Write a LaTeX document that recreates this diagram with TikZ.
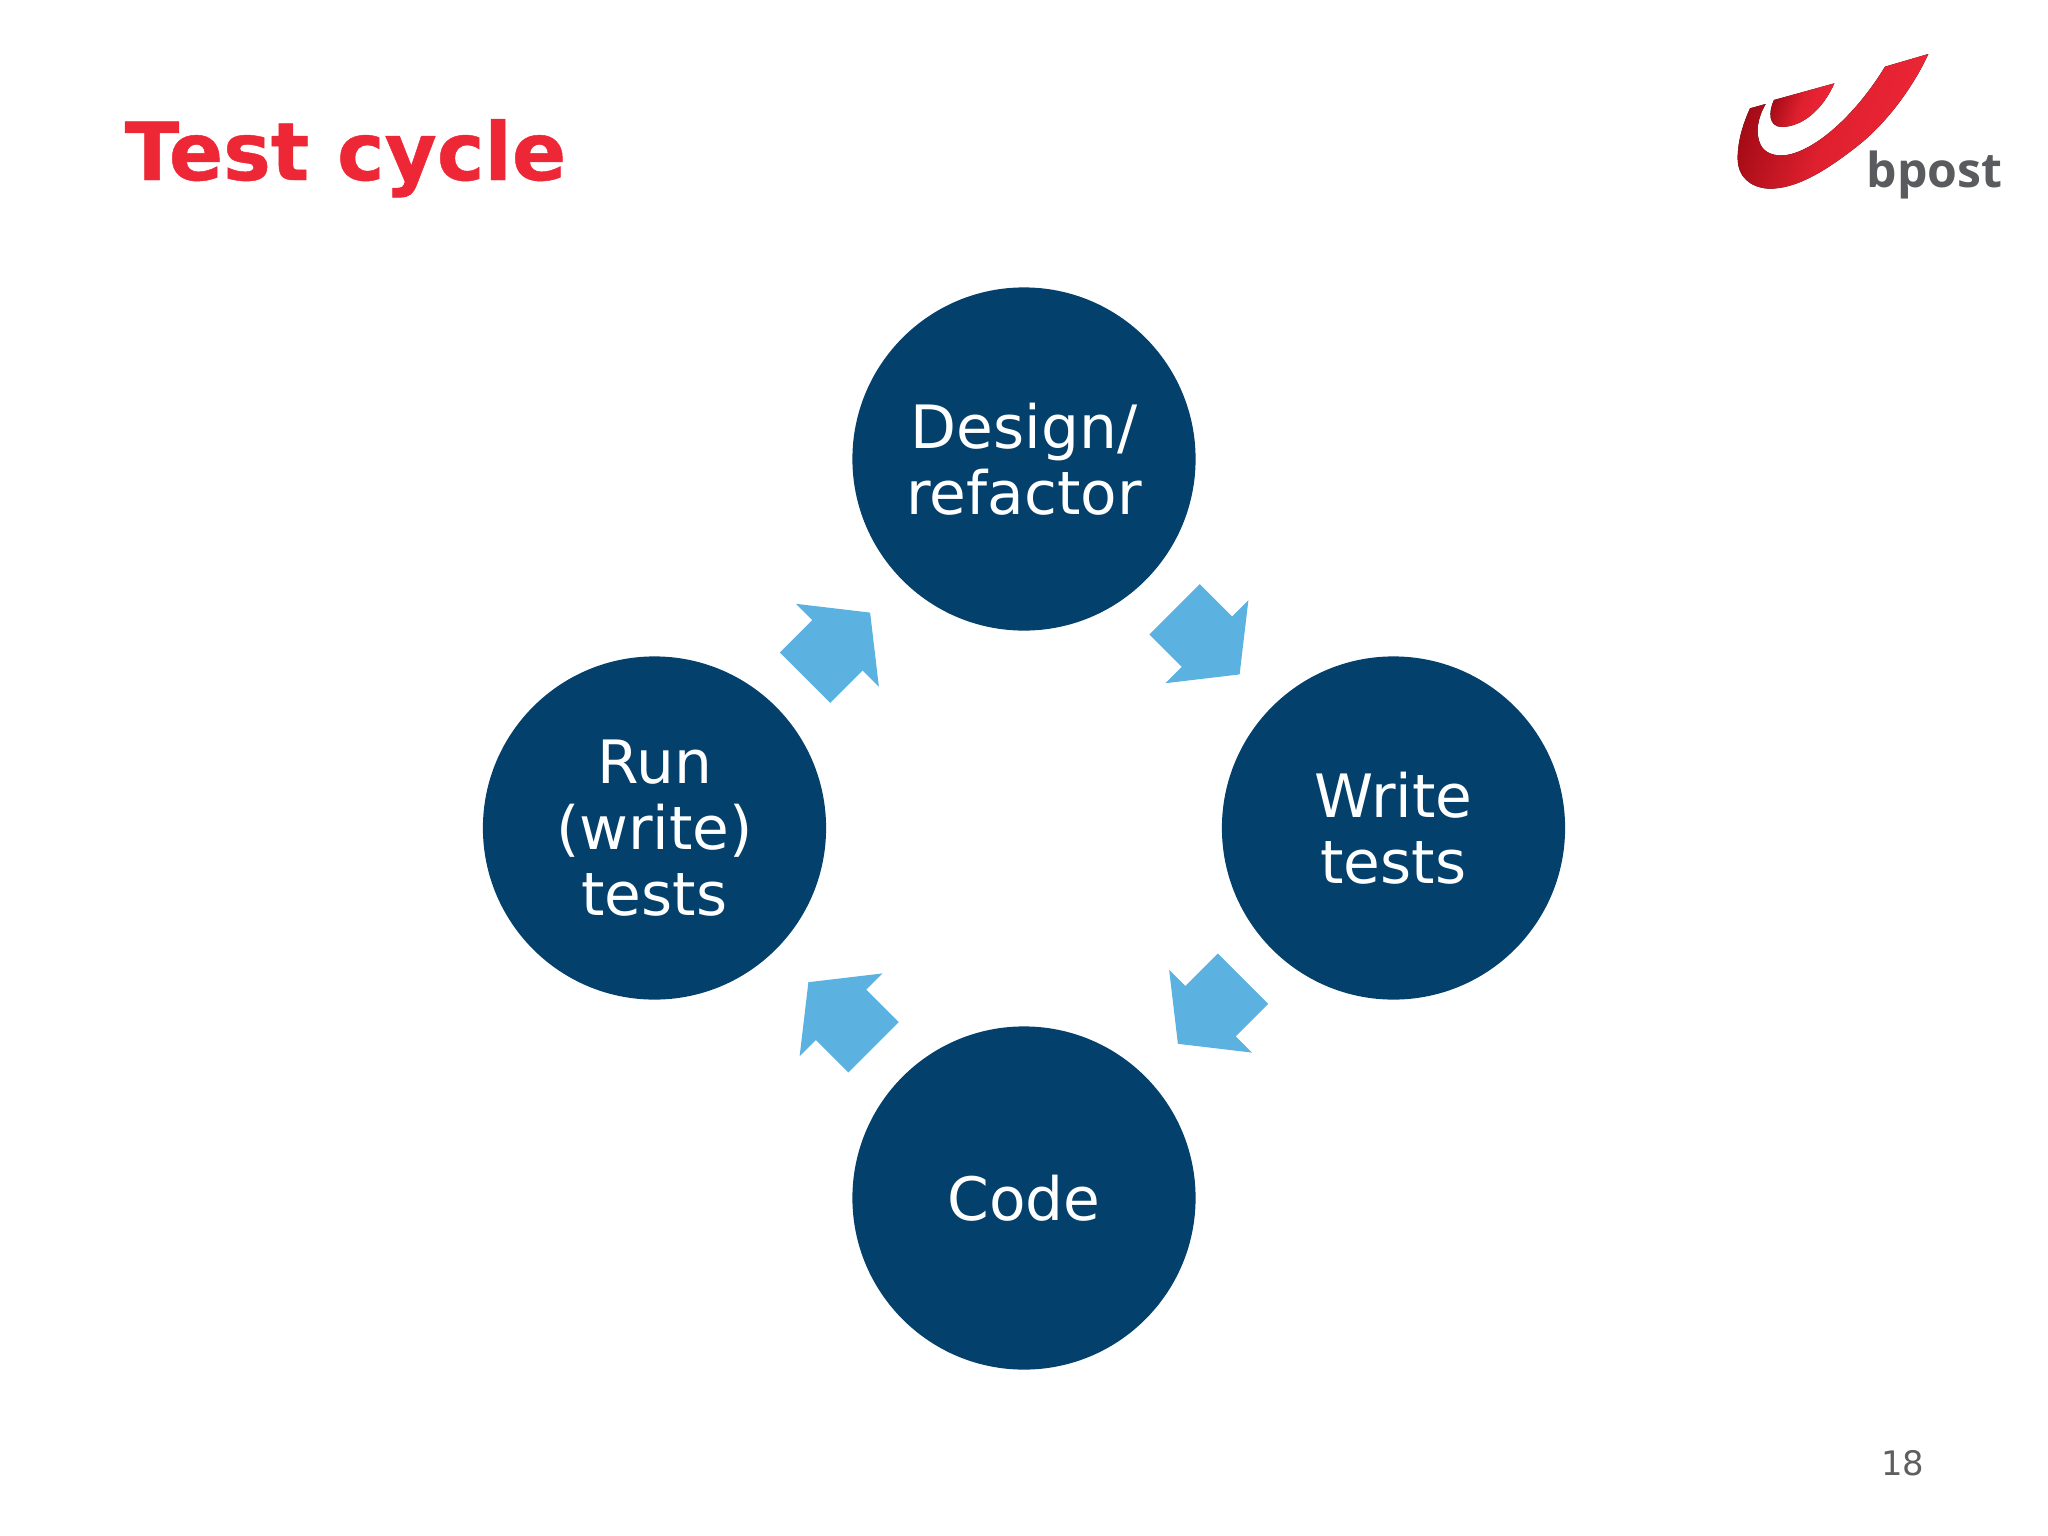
\documentclass[tikz,border=0pt]{standalone}
\usepackage{fontspec}
\setmainfont{DejaVu Sans}
\newfontfamily\logofont{Open Sans}
\newfontfamily\titlefont[FakeBold=0.6]{DejaVu Sans Bold}
\usetikzlibrary{positioning, calc, shapes.arrows}
\definecolor{circleBlue}{HTML}{03406B}
\definecolor{arrowBlue}{HTML}{5BB2E0}
\definecolor{titleRed}{HTML}{EE2737}
\definecolor{logoDark}{HTML}{A00A14}
\definecolor{logoMid}{HTML}{E0202F}
\definecolor{logoGrey}{HTML}{5A5B5E}
\definecolor{pageGrey}{HTML}{5F5F5F}

\begin{document}
\begin{tikzpicture}[
  x=0.01cm, y=-0.01cm
]
% -------------------- Styles --------------------
\tikzset{
  stage/.style={
    circle, fill=circleBlue, text=white, align=center, inner sep=0pt,
    minimum size=3.43cm,
    font=\fontsize{17}{18.8}\selectfont
  },
  cycleArrow/.style={
    single arrow, fill=arrowBlue, draw=none, anchor=tail,
    inner xsep=0pt, inner ysep=0.3485cm,
    minimum height=0.92cm,
    single arrow head extend=0.23cm, single arrow tip angle=103.5
  },
  swoosh/.style={
    draw=none, left color=logoDark, right color=titleRed, middle color=logoMid,
    shading angle=70
  }
}
\useasboundingbox (0,0) rectangle (2048,1536);

% -------------------- Title and page number --------------------
\node[anchor=base west, inner sep=0pt, text=titleRed,
      font=\titlefont\fontsize{22.8}{26}\selectfont] (title) at (124,180) {Test cycle};
\node[anchor=base east, inner sep=0pt, text=pageGrey,
      font=\fontsize{9.6}{12}\selectfont] (page) at (1925,1475) {18};

% -------------------- Cycle --------------------
\node[stage] (design) at (1024,459) {Design/\\refactor};
\node[stage] (write) at (1393.5,828) {Write\\tests};
\node[stage] (code) at (1024,1198) {Code};
\node[stage] (run) at (654.5,828) {Run\\(write)\\tests};

\node[cycleArrow, rotate=-45] (a1) at ($(design)!0.406!(write)$) {};
\node[cycleArrow, rotate=-135] (a2) at ($(write)!0.406!(code)$) {};
\node[cycleArrow, rotate=135] (a3) at ($(code)!0.406!(run)$) {};
\node[cycleArrow, rotate=45] (a4) at ($(run)!0.406!(design)$) {};

% -------------------- Logo --------------------
\begin{scope}[shift={(1700,30)}, scale=1/3]
  \fill[swoosh] (685,72)
    .. controls (640,170) and (560,280) .. (470,350)
    .. controls (380,420) and (290,478) .. (205,476)
    .. controls (150,472) and (113,440) .. (113,385)
    .. controls (113,330) and (130,280) .. (150,235)
    -- (197,222)
    .. controls (172,265) and (165,310) .. (182,345)
    .. controls (195,370) and (225,380) .. (260,375)
    .. controls (350,360) and (470,250) .. (555,110) -- cycle;
  \fill[swoosh] (403,160) -- (222,210)
    .. controls (205,245) and (205,290) .. (245,291)
    .. controls (310,290) and (370,235) .. (403,160) -- cycle;
  \node[anchor=base west, inner sep=0pt, text=logoGrey,
        font=\logofont\fontsize{13.7}{15}\selectfont\bfseries] (logo) at (498,473) {bpost};
\end{scope}
\end{tikzpicture}
\end{document}
